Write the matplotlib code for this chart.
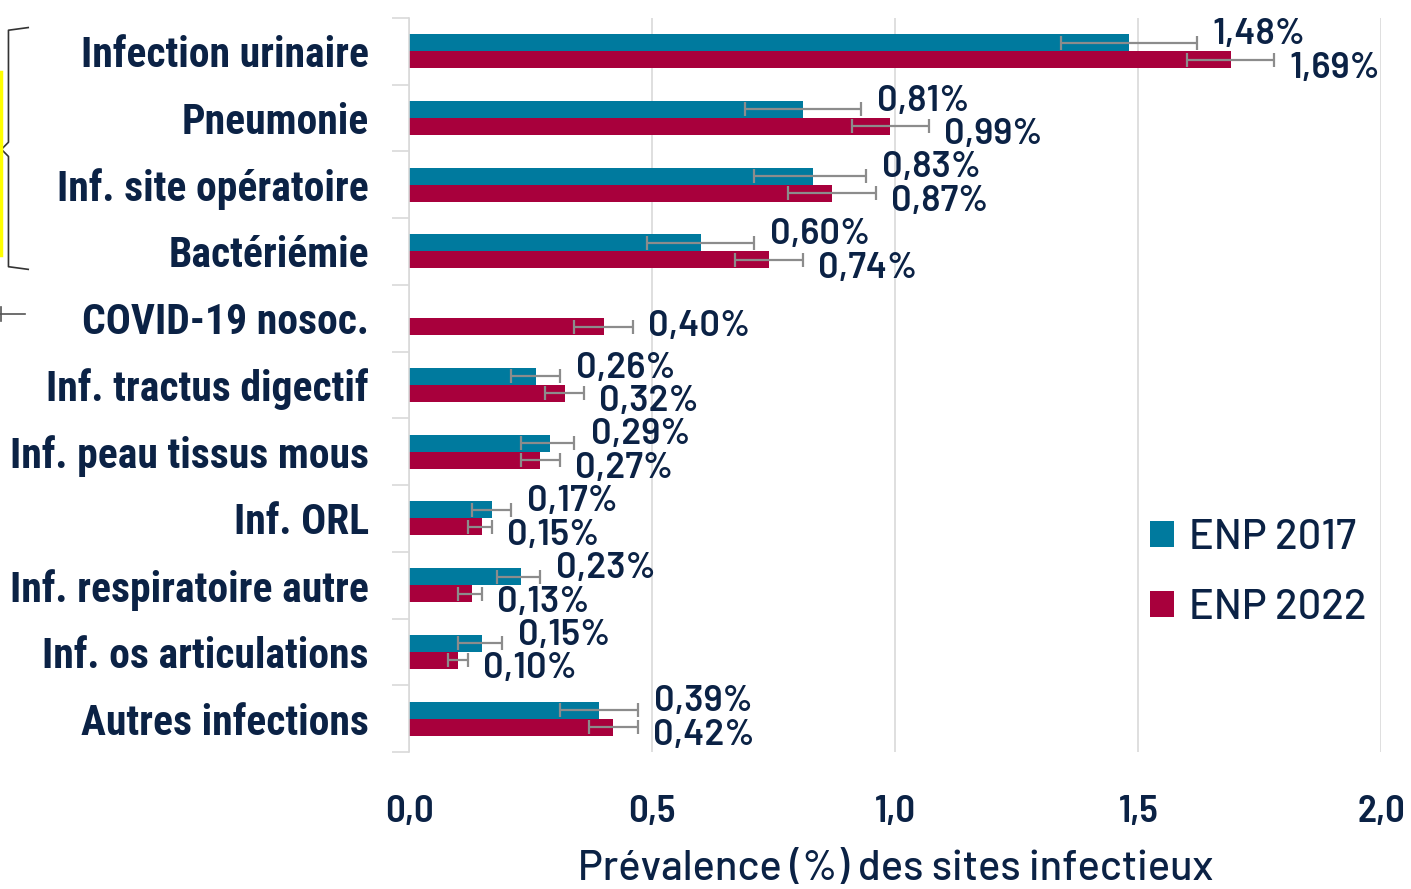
import numpy as np
import matplotlib
matplotlib.use("Agg")
import matplotlib.pyplot as plt
from matplotlib.lines import Line2D

categories = [
    "Infection urinaire",
    "Pneumonie",
    "Inf. site opératoire",
    "Bactériémie",
    "COVID-19 nosoc.",
    "Inf. tractus digectif",
    "Inf. peau tissus mous",
    "Inf. ORL",
    "Inf. respiratoire autre",
    "Inf. os articulations",
    "Autres infections",
]

# ENP 2017 (no COVID-19 category)
v2017 = [1.48, 0.81, 0.83, 0.60, np.nan, 0.26, 0.29, 0.17, 0.23, 0.15, 0.39]
lo2017 = [1.34, 0.69, 0.71, 0.49, np.nan, 0.21, 0.23, 0.13, 0.18, 0.10, 0.31]
hi2017 = [1.62, 0.93, 0.94, 0.71, np.nan, 0.31, 0.34, 0.21, 0.27, 0.19, 0.47]

# ENP 2022
v2022 = [1.69, 0.99, 0.87, 0.74, 0.40, 0.32, 0.27, 0.15, 0.13, 0.10, 0.42]
lo2022 = [1.60, 0.91, 0.78, 0.67, 0.34, 0.28, 0.23, 0.12, 0.10, 0.08, 0.37]
hi2022 = [1.78, 1.07, 0.96, 0.81, 0.46, 0.36, 0.31, 0.17, 0.15, 0.12, 0.47]

xticks = [0.0, 0.5, 1.0, 1.5, 2.0]

navy = "#0b2245"
teal = "#007a9e"
crimson = "#a8003c"
errgrey = "#8c8c8c"
grid = "#d9d9d9"
cat_font = ["Roboto Condensed", "DejaVu Sans"]
num_font = ["Barlow", "DejaVu Sans"]
tick_font = ["Barlow Semi Condensed", "DejaVu Sans"]

fig = plt.figure(figsize=(14.11, 8.89), dpi=100)
ax = fig.add_axes([0.290, 0.154, 0.689, 0.826])

y = np.arange(len(categories))
h = 0.255

v17 = np.array(v2017)
v22 = np.array(v2022)
err17 = np.array([v17 - np.array(lo2017), np.array(hi2017) - v17])
err22 = np.array([v22 - np.array(lo2022), np.array(hi2022) - v22])

ax.barh(y - h / 2, v17, height=h, color=teal, label="ENP 2017", zorder=2)
ax.barh(y + h / 2, v22, height=h, color=crimson, label="ENP 2022", zorder=2)
ax.errorbar(v17, y - h / 2, xerr=err17, fmt="none", ecolor=errgrey,
            elinewidth=1.6, capsize=5, capthick=1.6, zorder=3)
ax.errorbar(v22, y + h / 2, xerr=err22, fmt="none", ecolor=errgrey,
            elinewidth=1.6, capsize=5, capthick=1.6, zorder=3)


def pct(v):
    return f"{v:.2f}%".replace(".", ",")


for i in range(len(categories)):
    if not np.isnan(v17[i]):
        ax.annotate(pct(v17[i]), (hi2017[i] + 0.033, y[i] - h / 2),
                    xytext=(0, 6), textcoords="offset points",
                    ha="left", va="center", fontsize=26, color=navy,
                    family=num_font, fontweight="semibold")
        dy = -6
    else:
        dy = 0
    ax.annotate(pct(v22[i]), (hi2022[i] + 0.031, y[i] + h / 2),
                xytext=(0, dy), textcoords="offset points",
                ha="left", va="center", fontsize=26, color=navy,
                family=num_font, fontweight="semibold")

ax.set_xlim(0, 2.0)
ax.set_ylim(len(categories) - 0.5, -0.5)
ax.set_xticks(xticks)
ax.set_xticklabels([f"{t:.1f}".replace(".", ",") for t in xticks],
                   family=tick_font, fontsize=28, color=navy, fontweight="semibold")
ax.tick_params(axis="x", length=0, pad=31)

# category boundaries as y ticks (light grey, outside)
ax.set_yticks(np.arange(len(categories) + 1) - 0.5)
ax.set_yticklabels([])
ax.tick_params(axis="y", length=12, color=grid, width=1.2)
ax.set_yticks(y, minor=True)
ax.set_yticklabels(categories, minor=True, family=cat_font, fontweight="bold",
                   fontsize=30, color=navy)
ax.tick_params(axis="y", which="minor", length=0, pad=29)

ax.grid(axis="x", color=grid, linewidth=1.2, zorder=0)
ax.set_axisbelow(True)
for s in ["top", "right", "bottom"]:
    ax.spines[s].set_visible(False)
ax.spines["left"].set_color(grid)
ax.spines["left"].set_linewidth(1.2)

ax.set_xlabel("Prévalence (%) des sites infectieux", family=num_font,
              fontsize=30, color=navy, fontweight="medium", labelpad=15)

leg = ax.legend(loc="upper left", bbox_to_anchor=(0.762, 0.318), frameon=False,
                prop={"family": num_font, "size": 30, "weight": "medium"},
                handlelength=0.58, handleheight=0.58, handletextpad=0.35,
                labelspacing=0.78, borderaxespad=0, borderpad=0)
for t in leg.get_texts():
    t.set_color(navy)

# left bracket annotation
bx = [0.020, 0.006, 0.006, 0.001, 0.006, 0.006, 0.020]
by = [0.969, 0.966, 0.840, 0.832, 0.824, 0.700, 0.697]
fig.add_artist(Line2D(bx, by, color="#333333", linewidth=1.2))
fig.add_artist(Line2D([0.001, 0.001], [0.919, 0.713], color="#ffff00", linewidth=2.5))
fig.add_artist(Line2D([0.0, 0.018], [0.647, 0.647], color="#555555", linewidth=1.2))
fig.add_artist(Line2D([0.0007, 0.0007], [0.639, 0.655], color="#555555", linewidth=1.2))

fig.savefig("out.png", dpi=100)
